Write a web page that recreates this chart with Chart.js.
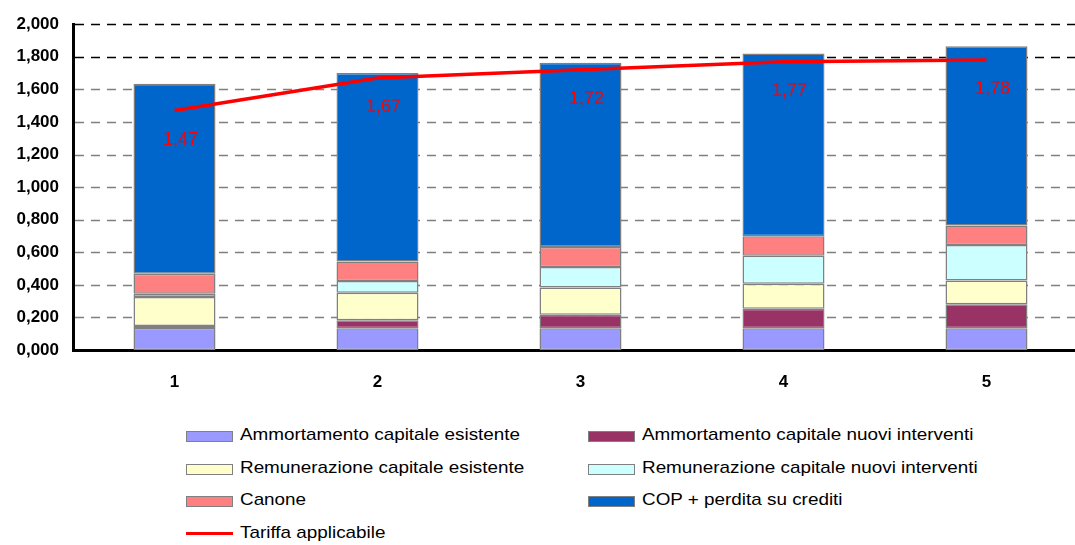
<!DOCTYPE html>
<html lang="it">
<head>
  <meta charset="UTF-8" />
  <title>Composizione tariffa</title>
  <script src="https://cdn.jsdelivr.net/npm/chart.js"></script>
  <style>
    html, body {
      margin: 0;
      padding: 0;
      background: #fff;
      overflow: hidden;
      width: 1075px;
      height: 545px;
    }
    #wrap {
      position: relative;
      width: 1075px;
      height: 545px;
    }
    canvas {
      position: absolute;
      left: 0;
      top: 0;
    }
    #legend {
      position: absolute;
      left: 186px;
      top: 420px;
      font-family: Arial, "Liberation Sans", sans-serif;
      font-size: 17px;
      color: #000;
    }
    .item {
      position: absolute;
      height: 32px;
      white-space: nowrap;
    }
    .box {
      position: absolute;
      left: 0;
      top: 11px;
      width: 45px;
      height: 9px;
      border: 1px solid #808080;
    }
    .line {
      position: absolute;
      left: 0;
      top: 14px;
      width: 47px;
      height: 3px;
    }
    .txt {
      position: absolute;
      left: 54px;
      top: 5px;
      display: inline-block;
      transform: scaleX(1.11);
      transform-origin: left center;
    }
  </style>
</head>
<body>
  <div id="wrap">
    <canvas id="tariffChart" width="1100" height="400"></canvas>
    <div id="legend"></div>
  </div>

  <script>
    const years = ['1', '2', '3', '4', '5'];

    const ammEsistente = [0.135, 0.133, 0.133, 0.133, 0.133];
    const ammNuovi = [0.013, 0.050, 0.083, 0.120, 0.148];
    const remEsistente = [0.177, 0.168, 0.167, 0.153, 0.145];
    const remNuovi = [0.021, 0.073, 0.127, 0.173, 0.218];
    const canone = [0.122, 0.120, 0.122, 0.120, 0.121];
    const cop = [1.167, 1.156, 1.131, 1.121, 1.100];
    const tariffa = [1.47, 1.67, 1.72, 1.77, 1.78];

    const yTicks = [0, 0.2, 0.4, 0.6, 0.8, 1.0, 1.2, 1.4, 1.6, 1.8, 2.0];

    function fmt(v, digits) {
      return v.toFixed(digits).replace('.', ',');
    }

    function barSet(label, data, color) {
      return {
        type: 'bar',
        label: label,
        data: data,
        backgroundColor: color,
        borderColor: '#808080',
        borderWidth: 1.5,
        borderSkipped: false,
        stack: 'costi',
        order: 1,
        categoryPercentage: 1,
        barPercentage: 0.404
      };
    }

    // dashed horizontal grid, drawn behind the bars
    const dashedGrid = {
      id: 'dashedGrid',
      beforeDatasetsDraw(chart) {
        const { ctx, chartArea } = chart;
        const y = chart.scales.y;
        ctx.save();
        ctx.lineWidth = 1.5;
        ctx.setLineDash([9, 7]);
        yTicks.forEach(v => {
          if (v === 0) return;
          const py = Math.round(y.getPixelForValue(v)) + 0.5;
          ctx.strokeStyle = v >= 1.8 ? '#000' : '#808080';
          ctx.beginPath();
          ctx.moveTo(chartArea.left + 2, py);
          ctx.lineTo(chartArea.right, py);
          ctx.stroke();
        });
        ctx.restore();
      }
    };

    // red value labels under each point of the tariff line
    const lineLabels = {
      id: 'lineLabels',
      afterDatasetsDraw(chart) {
        const ctx = chart.ctx;
        const idx = chart.data.datasets.findIndex(d => d.type === 'line');
        const meta = chart.getDatasetMeta(idx);
        ctx.save();
        ctx.font = '18px Arial, "Liberation Sans", sans-serif';
        ctx.fillStyle = '#FF0000';
        ctx.textAlign = 'center';
        ctx.textBaseline = 'middle';
        meta.data.forEach((pt, i) => {
          ctx.fillText(fmt(tariffa[i], 2), pt.x + 6, pt.y + 29);
        });
        ctx.restore();
      }
    };

    const chart = new Chart(document.getElementById('tariffChart'), {
      data: {
        labels: years,
        datasets: [
          barSet('Ammortamento capitale esistente', ammEsistente, '#9999FF'),
          barSet('Ammortamento capitale nuovi interventi', ammNuovi, '#993366'),
          barSet('Remunerazione capitale esistente', remEsistente, '#FFFFCC'),
          barSet('Remunerazione capitale nuovi interventi', remNuovi, '#CCFFFF'),
          barSet('Canone', canone, '#FF8080'),
          barSet('COP + perdita su crediti', cop, '#0066CC'),
          {
            type: 'line',
            label: 'Tariffa applicabile',
            data: tariffa,
            borderColor: '#FF0000',
            borderWidth: 3.5,
            pointRadius: 0,
            tension: 0,
            stack: 'tariffa',
            order: 0
          }
        ]
      },
      options: {
        responsive: false,
        animation: false,
        layout: { padding: { top: 23, right: 12, left: 0, bottom: 0 } },
        plugins: {
          legend: { display: false },
          tooltip: { enabled: false }
        },
        scales: {
          x: {
            stacked: true,
            grid: { display: false, drawTicks: false },
            border: { display: true, color: '#000', width: 3 },
            ticks: {
              padding: 22,
              color: '#000',
              font: { family: 'Arial, "Liberation Sans", sans-serif', size: 17, weight: 'bold' }
            },
            afterFit(scale) { scale.height = 50; }
          },
          y: {
            stacked: true,
            min: 0,
            max: 2,
            afterBuildTicks(scale) {
              scale.ticks = yTicks.map(v => ({ value: v }));
            },
            grid: { display: false, drawTicks: false },
            border: { display: true, color: '#000', width: 3 },
            ticks: {
              padding: 14,
              color: '#000',
              font: { family: 'Arial, "Liberation Sans", sans-serif', size: 17, weight: 'bold' },
              callback: v => fmt(v, 3)
            },
            afterFit(scale) { scale.width = 73; }
          }
        }
      },
      plugins: [dashedGrid, lineLabels]
    });

    // two-column legend built from the chart's datasets
    const legend = document.getElementById('legend');
    chart.data.datasets.forEach((ds, i) => {
      const item = document.createElement('div');
      item.className = 'item';
      item.style.left = (i % 2 === 0 ? 0 : 402) + 'px';
      item.style.top = (Math.floor(i / 2) * 32.7) + 'px';
      const mark = document.createElement('span');
      if (ds.type === 'line') {
        mark.className = 'line';
        mark.style.background = ds.borderColor;
      } else {
        mark.className = 'box';
        mark.style.background = ds.backgroundColor;
      }
      const txt = document.createElement('span');
      txt.className = 'txt';
      txt.textContent = ds.label;
      item.appendChild(mark);
      item.appendChild(txt);
      legend.appendChild(item);
    });
  </script>
</body>
</html>
